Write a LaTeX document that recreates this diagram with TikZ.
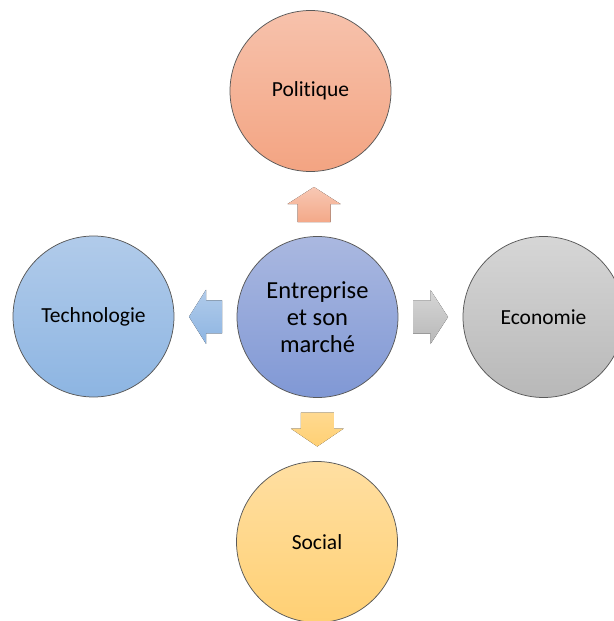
\documentclass[tikz,border=0pt]{standalone}
\usepackage{fontspec}
\setmainfont{Carlito}[Ligatures={NoCommon}]
\usetikzlibrary{calc}
\definecolor{polT}{RGB}{247,194,172}
\definecolor{polB}{RGB}{243,164,130}
\definecolor{cenT}{RGB}{170,184,224}
\definecolor{cenB}{RGB}{128,152,213}
\definecolor{tecT}{RGB}{177,203,234}
\definecolor{tecB}{RGB}{141,181,226}
\definecolor{ecoT}{RGB}{214,214,214}
\definecolor{ecoB}{RGB}{184,184,184}
\definecolor{socT}{RGB}{255,223,162}
\definecolor{socB}{RGB}{255,208,116}
\begin{document}
\begin{tikzpicture}[x=1pt,y=-1pt,
  circ/.style={circle, draw=black!65, line width=0.75pt, minimum size=161pt,
    inner sep=0pt, text=black, align=center, font=\fontsize{21.5}{25}\selectfont},
  bigtext/.style={font=\fontsize{24.5}{27}\selectfont}
]
\useasboundingbox (0,0) rectangle (613,621);
\node[circ, top color=polT, bottom color=polB] (pol) at (310.5,91) {Politique};
\node[circ, top color=cenT, bottom color=cenB, bigtext] (cen) at (317.5,317) {Entreprise\\et son\\marché};
\node[circ, top color=tecT, bottom color=tecB] (tec) at (93.5,316.5) {Technologie};
\node[circ, top color=ecoT, bottom color=ecoB] (eco) at (543.5,317) {Economie};
\node[circ, top color=socT, bottom color=socB] (soc) at (317,542) {Social};
\coordinate (mu) at ($(cen)!0.5!(pol)$);
\coordinate (ml) at ($(cen)!0.5!(tec)$);
\coordinate (mr) at ($(cen)!0.5!(eco)$);
\coordinate (md) at ($(cen)!0.5!(soc)$);
% up arrow
\begin{scope}[shift={(mu)}]
\fill[top color=polT!90!white, bottom color=polB!95!white]
  (0,-17) -- (26.5,0) -- (16.5,0) -- (16.5,18) -- (-16.5,18) -- (-16.5,0) -- (-26.5,0) -- cycle;
\end{scope}
% left arrow
\begin{scope}[shift={(ml)}]
\fill[top color=tecT, bottom color=tecB]
  (-16.5,0) -- (0.5,-27) -- (0.5,-16.5) -- (16.5,-16.5) -- (16.5,16.5) -- (0.5,16.5) -- (0.5,27) -- cycle;
\end{scope}
% right arrow
\begin{scope}[shift={(mr)}]
\fill[top color=ecoT, bottom color=ecoB]
  (17.5,0) -- (0,-27) -- (0,-16.5) -- (-17.5,-16.5) -- (-17.5,16.5) -- (0,16.5) -- (0,27) -- cycle;
\end{scope}
% down arrow
\begin{scope}[shift={(md)}]
\fill[top color=socB!80!white, bottom color=socB]
  (0,17) -- (26.5,-1) -- (16.5,-1) -- (16.5,-17) -- (-16.5,-17) -- (-16.5,-1) -- (-26.5,-1) -- cycle;
\end{scope}
\end{tikzpicture}
\end{document}
